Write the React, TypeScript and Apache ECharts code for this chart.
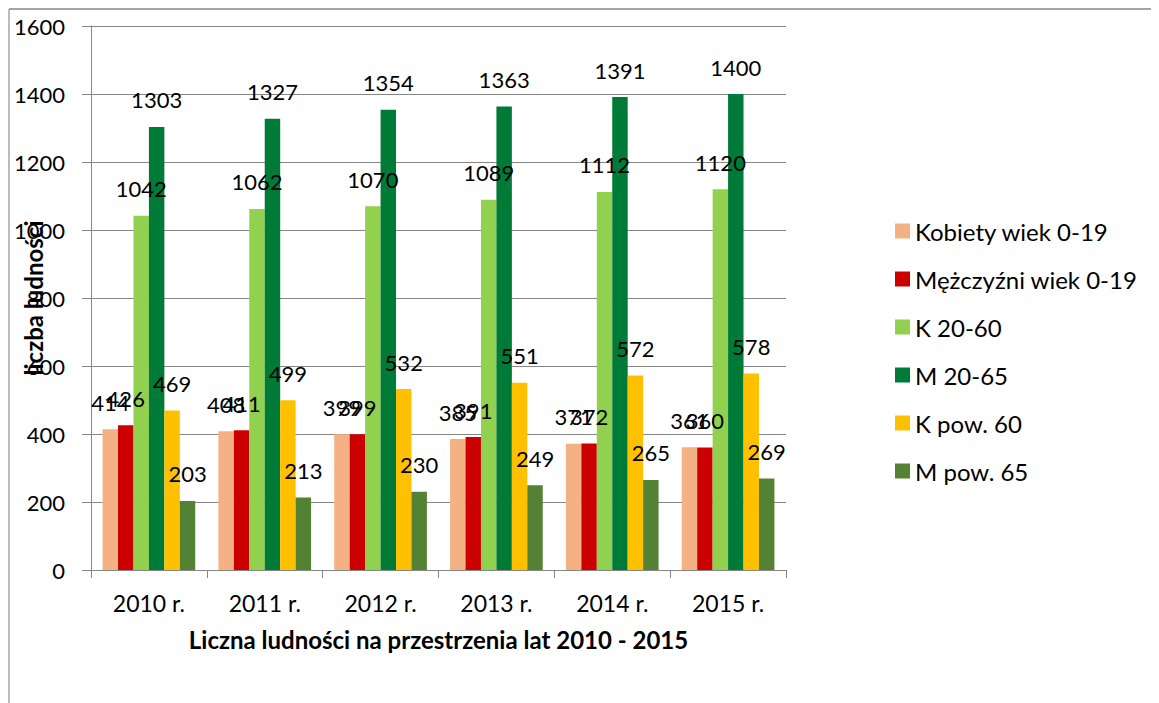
import React, { useEffect, useRef } from "react";
import * as echarts from "echarts";

const categories = ["2010 r.", "2011 r.", "2012 r.", "2013 r.", "2014 r.", "2015 r."];
const seriesNames = ["Kobiety wiek 0-19", "Mężczyźni wiek 0-19", "K 20-60", "M 20-65", "K pow. 60", "M pow. 65"];
const kobiety019 = [414, 408, 399, 385, 371, 361];
const mezczyzni019 = [426, 411, 399, 391, 372, 360];
const k2060 = [1042, 1062, 1070, 1089, 1112, 1120];
const m2065 = [1303, 1327, 1354, 1363, 1391, 1400];
const kPow60 = [469, 499, 532, 551, 572, 578];
const mPow65 = [203, 213, 230, 249, 265, 269];
const colors = ["#F4B183", "#CC0000", "#92D050", "#007A37", "#FFC000", "#548235"];
const yTicks = { min: 0, max: 1600, interval: 200 };

const FONT = "Lato, 'Open Sans', sans-serif";

export default function App() {
  const ref = useRef<HTMLDivElement>(null);
  useEffect(() => {
    if (!ref.current) return;
    const chart = echarts.init(ref.current, undefined, { renderer: "svg" });
    const data = [kobiety019, mezczyzni019, k2060, m2065, kPow60, mPow65];
    chart.setOption({
      animation: false,
      textStyle: { fontFamily: FONT },
      graphic: [
        { type: "line", shape: { x1: 1, y1: 1, x2: 1159, y2: 1 }, style: { stroke: "#868686", lineWidth: 1.5 } },
        { type: "line", shape: { x1: 1, y1: 1, x2: 1, y2: 703 }, style: { stroke: "#A6A6A6", lineWidth: 1.5 } },
      ],
      legend: {
        orient: "vertical",
        left: 882,
        top: 206,
        itemWidth: 15,
        itemHeight: 15,
        itemGap: 24,
        icon: "rect",
        textStyle: { fontFamily: FONT, fontSize: 24, color: "#000" },
        data: seriesNames,
      },
      grid: { left: 83, right: 373, top: 18, bottom: 133, outerBoundsMode: "none", containLabel: false },
      xAxis: {
        type: "category",
        data: categories,
        axisLine: { lineStyle: { color: "#868686", width: 1 } },
        axisTick: { show: true, length: 8, alignWithLabel: false, lineStyle: { color: "#868686" } },
        axisLabel: { fontSize: 23, color: "#000", margin: 21, fontFamily: FONT },
        name: "Liczna ludności na przestrzenia lat 2010 - 2015",
        nameLocation: "middle",
        nameGap: 57,
        nameMoveOverlap: false,
        nameTextStyle: { fontSize: 24, fontWeight: "bold", color: "#000", fontFamily: FONT },
      },
      yAxis: {
        type: "value",
        min: yTicks.min,
        max: yTicks.max,
        interval: yTicks.interval,
        axisLine: { show: true, lineStyle: { color: "#868686", width: 1 } },
        axisTick: { show: true, length: 9, lineStyle: { color: "#868686" } },
        splitLine: { show: true, lineStyle: { color: "#868686", width: 1 } },
        axisLabel: { fontSize: 22, color: "#000", margin: 26, fontFamily: FONT, formatter: (v: number) => String(v) },
        name: "liczba ludności",
        nameLocation: "middle",
        nameGap: 46,
        nameMoveOverlap: false,
        nameTextStyle: { fontSize: 24, fontWeight: "bold", color: "#000", fontFamily: FONT },
      },
      series: seriesNames.map((name, i) => ({
        name,
        type: "bar",
        data: data[i],
        barGap: "0%",
        barCategoryGap: "20%",
        itemStyle: { color: colors[i] },
        label: {
          show: true,
          position: "top",
          distance: 16,
          fontSize: 22,
          color: "#000",
          fontFamily: FONT,
        },
      })),
    });
    return () => chart.dispose();
  }, []);
  return <div ref={ref} style={{ width: 1151, height: 695 }} />;
}
